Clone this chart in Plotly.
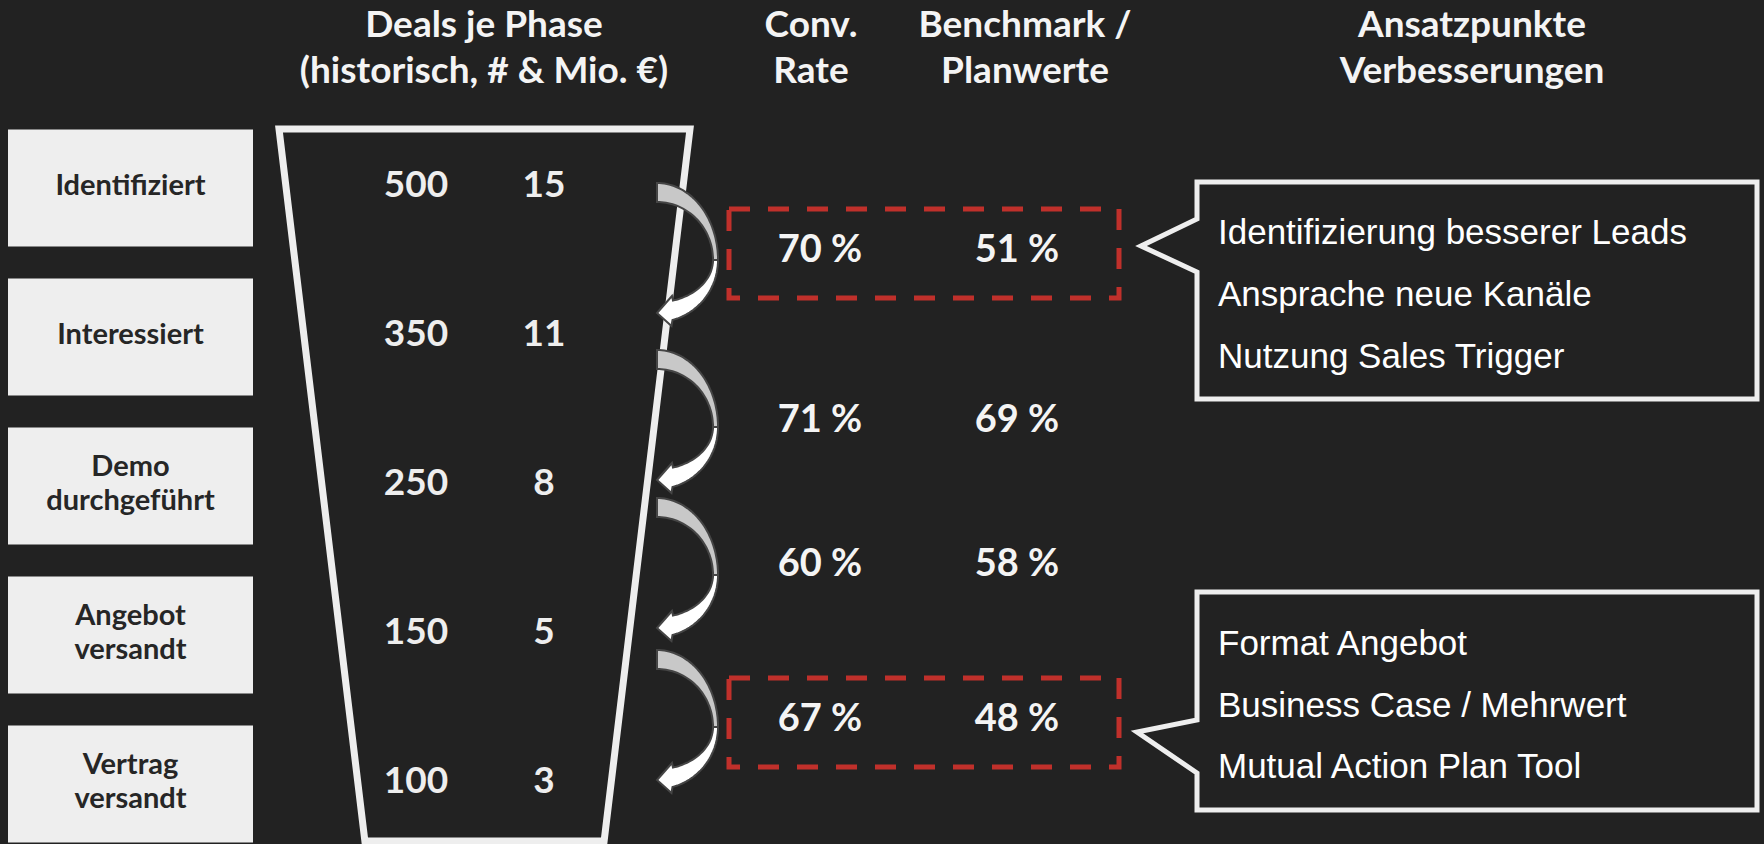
import numpy as np
import plotly.graph_objects as go

# ---------------- data ----------------
phases = ["Identifiziert", "Interessiert", "Demo<br>durchgeführt", "Angebot<br>versandt", "Vertrag<br>versandt"]
deal_counts = [500, 350, 250, 150, 100]
deal_values_mio = [15, 11, 8, 5, 3]
conv_rates = [70, 71, 60, 67]
benchmarks = [51, 69, 58, 48]
highlighted = [True, False, False, True]
header_line1 = ["Deals je Phase", "Conv.", "Benchmark /", "Ansatzpunkte"]
header_line2 = ["(historisch, # & Mio. €)", "Rate", "Planwerte", "Verbesserungen"]
measures_top = ["Identifizierung besserer Leads", "Ansprache neue Kanäle", "Nutzung Sales Trigger"]
measures_bottom = ["Format Angebot", "Business Case / Mehrwert", "Mutual Action Plan Tool"]

# ---------------- layout constants ----------------
W, H = 1764, 844
BG = "#222222"
LIGHT = "#eeeeee"
RED = "#c0302b"
row_y = [188 + 149 * i for i in range(len(phases))]
conv_y = [252, 422, 566, 721]
arrow_top = [183, 350, 498, 650]
header_x = [484, 811, 1025, 1472]
header_y = [28, 74]
label_x = 130.5
label_line_gap = 34
count_x, value_x = 416, 544
conv_x, bench_x = 820, 1017
measure_x = 1218
measure_top_y = [235, 297, 359]
measure_bottom_y = [646, 708, 769]

fig = go.Figure()
shapes = []

# left phase boxes
for y in row_y:
    shapes.append(dict(type="rect", xref="x", yref="y", x0=8, x1=253, y0=y - 58.5, y1=y + 58.5,
                       fillcolor=LIGHT, line=dict(width=0), layer="below"))

# funnel outline
ft, fb = 129, 841
slope = 0.1206
fl0, fr0 = 279, 690
fl1, fr1 = fl0 + slope * (fb - ft), fr0 - slope * (fb - ft)
shapes.append(dict(type="path", xref="x", yref="y",
                   path=f"M {fl0},{ft} L {fr0},{ft} L {fr1},{fb} L {fl1},{fb} Z",
                   fillcolor=BG, line=dict(color=LIGHT, width=7), layer="below"))

# callouts (below the text traces)
shapes.append(dict(type="path", xref="x", yref="y",
                   path="M 1197,182 L 1757,182 L 1757,399 L 1197,399 L 1197,272 L 1141,246 L 1197,219 Z",
                   fillcolor=BG, line=dict(color=LIGHT, width=5), layer="below"))
shapes.append(dict(type="path", xref="x", yref="y",
                   path="M 1197,592 L 1757,592 L 1757,810 L 1197,810 L 1197,773 L 1137,732 L 1197,720 Z",
                   fillcolor=BG, line=dict(color=LIGHT, width=5), layer="below"))


def arc(cx, cy, rx, ry, t0, t1, n=40):
    t = np.linspace(t0, t1, n)
    return [(cx + rx * np.cos(a), cy - ry * np.sin(a)) for a in t]


def to_path(pts):
    return "M " + " L ".join(f"{x:.1f},{y:.1f}" for x, y in pts) + " Z"


# curved arrows
x0 = 657
for yt in arrow_top:
    cy = yt + 77
    gray = arc(x0, cy, 61, 77, np.pi / 2, 0) + arc(x0, cy, 56, 58, 0, np.pi / 2)
    to = np.arccos(15.5 / 61)
    ti = np.arccos(16 / 56)
    white = (arc(x0, cy, 61, 62, 0, -to)
             + [(x0 + 14.5, yt + 143), (x0, yt + 130), (x0 + 15, yt + 113)]
             + arc(x0, cy, 56, 42.3, -ti, 0))
    shapes.append(dict(type="path", xref="x", yref="y", path=to_path(gray),
                       fillcolor="#c8c8c8", line=dict(color="#454545", width=2)))
    shapes.append(dict(type="path", xref="x", yref="y", path=to_path(white),
                       fillcolor="#ffffff", line=dict(color="#454545", width=2)))

# dashed highlight boxes
for y, h in zip(conv_y, highlighted):
    if h:
        shapes.append(dict(type="rect", xref="x", yref="y", x0=729, x1=1119, y0=y - 43, y1=y + 46,
                           fillcolor="rgba(0,0,0,0)", line=dict(color=RED, width=5, dash="21px,18px")))


def text_trace(xs, ys, texts, size, color, family="Lato", weight=700, pos="middle center"):
    return go.Scatter(x=xs, y=ys, text=texts, mode="text", textposition=pos,
                      textfont=dict(family=family, size=size, color=color, weight=weight),
                      hoverinfo="skip", showlegend=False, cliponaxis=False)


# headers
fig.add_trace(text_trace(header_x, [header_y[0]] * 4, header_line1, 37, "#f4f4f4"))
fig.add_trace(text_trace(header_x, [header_y[1]] * 4, header_line2, 37, "#f4f4f4"))

# phase labels (each line placed separately for tighter line spacing)
lx, ly, lt = [], [], []
for name, y in zip(phases, row_y):
    parts = name.split("<br>")
    n = len(parts)
    for k, p in enumerate(parts):
        lx.append(label_x)
        ly.append(y + (k - (n - 1) / 2) * label_line_gap)
        lt.append(p)
fig.add_trace(text_trace(lx, ly, lt, 29, "#262626"))

# funnel numbers
fig.add_trace(text_trace([count_x] * len(deal_counts), row_y, [str(v) for v in deal_counts], 37, "#eeeeee"))
fig.add_trace(text_trace([value_x] * len(deal_values_mio), row_y, [str(v) for v in deal_values_mio], 37, "#eeeeee"))

# conversion / benchmark
fig.add_trace(text_trace([conv_x] * len(conv_rates), conv_y, [f"{v} %" for v in conv_rates], 38, "#f4f4f4"))
fig.add_trace(text_trace([bench_x] * len(benchmarks), conv_y, [f"{v} %" for v in benchmarks], 38, "#f4f4f4"))

# measures
fig.add_trace(text_trace([measure_x] * 3, measure_top_y, measures_top, 35, "#ffffff",
                         family="Liberation Sans, Arial", weight=400, pos="middle right"))
fig.add_trace(text_trace([measure_x] * 3, measure_bottom_y, measures_bottom, 35, "#ffffff",
                         family="Liberation Sans, Arial", weight=400, pos="middle right"))

fig.update_layout(
    width=W, height=H, margin=dict(l=0, r=0, t=0, b=0),
    paper_bgcolor=BG, plot_bgcolor=BG, showlegend=False,
    xaxis=dict(range=[0, W], visible=False, fixedrange=True),
    yaxis=dict(range=[H, 0], visible=False, fixedrange=True),
    shapes=shapes,
)

fig.write_html("out.html", config={"displayModeBar": False})
